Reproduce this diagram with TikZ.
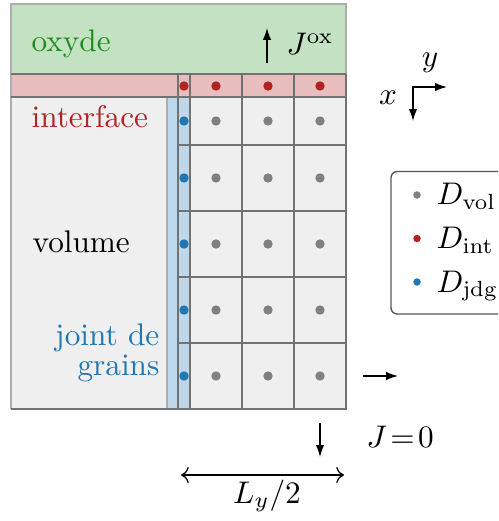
\documentclass[tikz,border=0pt]{standalone}
\usetikzlibrary{arrows.meta}
\definecolor{oxfill}{HTML}{C2E2C2}
\definecolor{intfill}{HTML}{E8BDBD}
\definecolor{jdgfill}{HTML}{BED7EA}
\definecolor{volfill}{HTML}{EFEFEF}
\definecolor{oxtext}{HTML}{1F8B1F}
\definecolor{inttext}{HTML}{B22222}
\definecolor{jdgtext}{HTML}{1F77B4}
\definecolor{volpt}{HTML}{808080}
\definecolor{gridline}{HTML}{727272}
\definecolor{outline}{HTML}{ADADAD}
\begin{document}
\begin{tikzpicture}[x=0.32pt,y=-0.32pt,
  gl/.style={draw=gridline,line width=0.42pt},
  ol/.style={draw=outline,line width=0.5pt},
  dotbase/.style={circle,inner sep=0pt,minimum size=3.0pt},
  dotv/.style={dotbase,fill=volpt},
  doti/.style={dotbase,fill=inttext},
  dotj/.style={dotbase,fill=jdgtext},
  legdot/.style={circle,inner sep=0pt,minimum size=2.4pt},
  lbl/.style={inner sep=0pt,font=\fontsize{10}{12}\selectfont},
  arr/.style={-{Latex[length=3.8pt,width=2.7pt]},line width=0.45pt},
  legendbox/.style={draw=black!65,line width=0.45pt,rounded corners=2pt,fill=white},
]
\clip (0,0) rectangle (498,521);
% fills
\fill[oxfill] (11,4) rectangle (346,74);
\fill[intfill] (11,74) rectangle (346,97);
\fill[volfill] (11,97) rectangle (346,409);
\fill[jdgfill] (167,97) rectangle (190,409);
% outer light border
\draw[ol] (11,409) -- (11,4) -- (346,4) -- (346,74);
\draw[ol] (167,97) -- (167,409);
% grid lines
\draw[gl] (11,74) -- (346,74);
\draw[gl] (11,97) -- (346,97);
\draw[gl] (346,74) -- (346,409) -- (11,409);
\draw[gl] (178,74) -- (178,409);
\draw[gl] (190,74) -- (190,409);
\draw[gl] (242,74) -- (242,409);
\draw[gl] (294,74) -- (294,409);
\foreach \yy in {145,211,277,343} \draw[gl] (178,\yy) -- (346,\yy);
% dots
\foreach \xx/\c in {184/a,216/b,268/c,320/d}
  \node[doti] (i\c) at (\xx,86) {};
\foreach \yy/\r in {121/1,178/2,244/3,310/4,376/5}{
  \node[dotj] (j\r) at (184,\yy) {};
  \foreach \xx/\c in {216/b,268/c,320/d}
    \node[dotv] (v\r\c) at (\xx,\yy) {};
}
% region labels
\node[lbl,anchor=base west,text=oxtext] (oxyde) at (31,52) {oxyde};
\node[lbl,anchor=base west,text=inttext] (interface) at (31,128) {interface};
\node[lbl,anchor=base west] (volume) at (32,252) {volume};
\node[lbl,anchor=base east,text=jdgtext] (jdg1) at (160,345) {joint de};
\node[lbl,anchor=base east,text=jdgtext] (jdg2) at (160,375) {grains};
% J ox
\coordinate (jox0) at (267,63);
\coordinate (jox1) at (267,28);
\draw[arr] (jox0) -- (jox1);
\node[lbl,anchor=base west] (joxlbl) at (286,55) {$J^{\mathrm{ox}}$};
% axes
\coordinate (ax0) at (413,87);
\coordinate (axy) at (447,87);
\coordinate (axx) at (413,121);
\draw[{Latex[length=3.8pt,width=2.7pt]}-{Latex[length=3.8pt,width=2.7pt]},line width=0.45pt] (axx) -- (ax0) -- (axy);
\node[lbl,anchor=base] (ylbl) at (430,67) {$y$};
\node[lbl,anchor=base] (xlbl) at (388,105) {$x$};
% legend
\draw[legendbox] (391,171.5) rectangle (530,314);
\node[legdot,fill=volpt] (lv) at (417,195) {};
\node[legdot,fill=inttext] (li) at (417,238.5) {};
\node[legdot,fill=jdgtext] (lj) at (417,282) {};
\node[lbl,anchor=base west] (lvt) at (436,205) {$D_{\mathrm{vol}}$};
\node[lbl,anchor=base west] (lit) at (436,248.5) {$D_{\mathrm{int}}$};
\node[lbl,anchor=base west] (ljt) at (436,292) {$D_{\mathrm{jdg}}$};
% bottom arrows
\coordinate (r0) at (363,376);
\coordinate (r1) at (398,376);
\draw[arr] (r0) -- (r1);
\coordinate (d0) at (320,423);
\coordinate (d1) at (320,457);
\draw[arr] (d0) -- (d1);
\node[lbl,anchor=base west] (j0) at (366,447) {$J\!=\!0$};
\coordinate (la) at (181,475);
\coordinate (lb) at (344,475);
\draw[<->,line width=0.4pt] (la) -- (lb);
\node[lbl,anchor=base] (ly) at (267,503) {$L_y/2$};
\end{tikzpicture}
\end{document}
